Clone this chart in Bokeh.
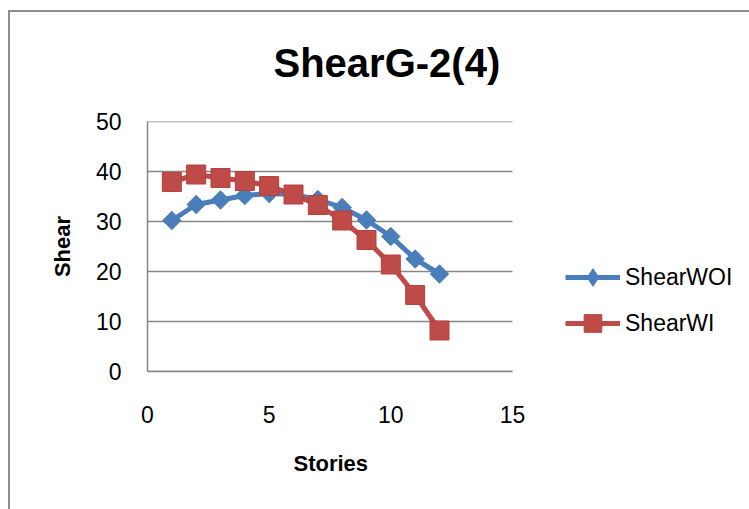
from bokeh.plotting import figure
from bokeh.models import (ColumnDataSource, Legend, LegendItem, Title,
                          FixedTicker, InlineStyleSheet, Range1d)
from bokeh.embed import file_html
from bokeh.resources import INLINE
import math

# Shear per story, without and with infill
stories = [1, 2, 3, 4, 5, 6, 7, 8, 9, 10, 11, 12]
shear_woi = [30.2, 33.4, 34.3, 35.2, 35.6, 35.4, 34.4, 32.8, 30.3, 27.0, 22.5, 19.5]
shear_wi = [37.9, 39.4, 38.7, 38.1, 37.1, 35.4, 33.3, 30.2, 26.3, 21.4, 15.3, 8.2]

x_ticks = [0, 5, 10, 15]
y_ticks = [0, 10, 20, 30, 40, 50]

BLUE = "#4A7EBB"
RED = "#BE4B48"
GRID = "#868686"

W, H = 749, 509
LEFT, RIGHT_AXIS_END, TOP, BOTTOM = 147, 512, 121, 371

# the plotting frame runs to the right page edge so the legend fits inside;
# the axis and grid only cover 0..15
x_end = x_ticks[-1] * (W - LEFT) / (RIGHT_AXIS_END - LEFT)

p = figure(width=W, height=H,
           x_range=Range1d(x_ticks[0], x_end), y_range=Range1d(y_ticks[0], y_ticks[-1]),
           output_backend="svg", toolbar_location=None,
           min_border_left=LEFT, min_border_right=0,
           min_border_top=TOP, min_border_bottom=H - BOTTOM)
p.outline_line_color = None
p.background_fill_color = "white"
p.border_fill_color = "white"

# chart-area border along the left and top edges of the page
p.stylesheets = [InlineStyleSheet(css="""
:host { position: relative; }
:host::after {
  content: ""; position: absolute; left: 8px; top: 10px; right: 0; bottom: 0;
  border-left: 2px solid #8C8C8C; border-top: 2px solid #8C8C8C;
  pointer-events: none;
}
""")]

p.title = Title(text="ShearG-2(4)", align="left", offset=126, standoff=74,
                text_font="Liberation Sans", text_font_style="bold",
                text_font_size="40px", text_color="black")

# horizontal gridlines at the y ticks, spanning the x axis
p.segment(x0=x_ticks[0], x1=x_ticks[-1], y0=y_ticks, y1=y_ticks,
          line_color=GRID, line_width=1.5)

src = ColumnDataSource(dict(x=stories, woi=shear_woi, wi=shear_wi))

l1 = p.line("x", "woi", source=src, line_color=BLUE, line_width=5)
# diamond glyph used as the legend swatch (legend glyphs are never rotated);
# in the plot it sits underneath the rotated squares
m1_key = p.scatter("x", "woi", source=src, marker="diamond", size=13,
                   fill_color=BLUE, line_color=BLUE, line_width=1)
m1 = p.scatter("x", "woi", source=src, marker="square", angle=math.pi / 4,
               size=13, fill_color=BLUE, line_color=BLUE, line_width=1)
l2 = p.line("x", "wi", source=src, line_color=RED, line_width=5)
m2 = p.scatter("x", "wi", source=src, marker="square", size=19,
               fill_color=RED, line_color="#B4423F", line_width=1)

# axes
p.xaxis.ticker = FixedTicker(ticks=x_ticks)
p.yaxis.ticker = FixedTicker(ticks=y_ticks)
p.xaxis.bounds = (x_ticks[0], x_ticks[-1])
for ax in (p.xaxis[0], p.yaxis[0]):
    ax.major_tick_line_color = None
    ax.minor_tick_line_color = None
    ax.major_label_text_font = "Liberation Sans"
    ax.major_label_text_font_size = "23px"
    ax.major_label_text_color = "black"
    ax.axis_line_color = GRID
    ax.axis_line_width = 1.5
p.xaxis.major_label_standoff = 28
p.yaxis.major_label_standoff = 20
p.xgrid.grid_line_color = None
p.ygrid.grid_line_color = None

# axis titles
p.add_layout(Title(text="Shear", align="center", standoff=36,
                   text_font="Liberation Sans", text_font_style="bold",
                   text_font_size="22px", text_color="black"), "left")
p.add_layout(Title(text="Stories", align="left", offset=146, standoff=47,
                   text_font="Liberation Sans", text_font_style="bold",
                   text_font_size="22px", text_color="black"), "below")

# legend, right of the axis
legend = Legend(items=[LegendItem(label="ShearWOI", renderers=[l1, m1_key]),
                       LegendItem(label="ShearWI", renderers=[l2, m2])],
                location=(418, 26), orientation="vertical",
                glyph_width=55, glyph_height=44, spacing=2,
                label_standoff=5, padding=0, margin=0,
                border_line_color=None, background_fill_alpha=0,
                label_text_font="Liberation Sans", label_text_font_size="23px",
                label_text_color="black")
p.add_layout(legend)

open("out.html", "w").write(file_html(p, INLINE))
